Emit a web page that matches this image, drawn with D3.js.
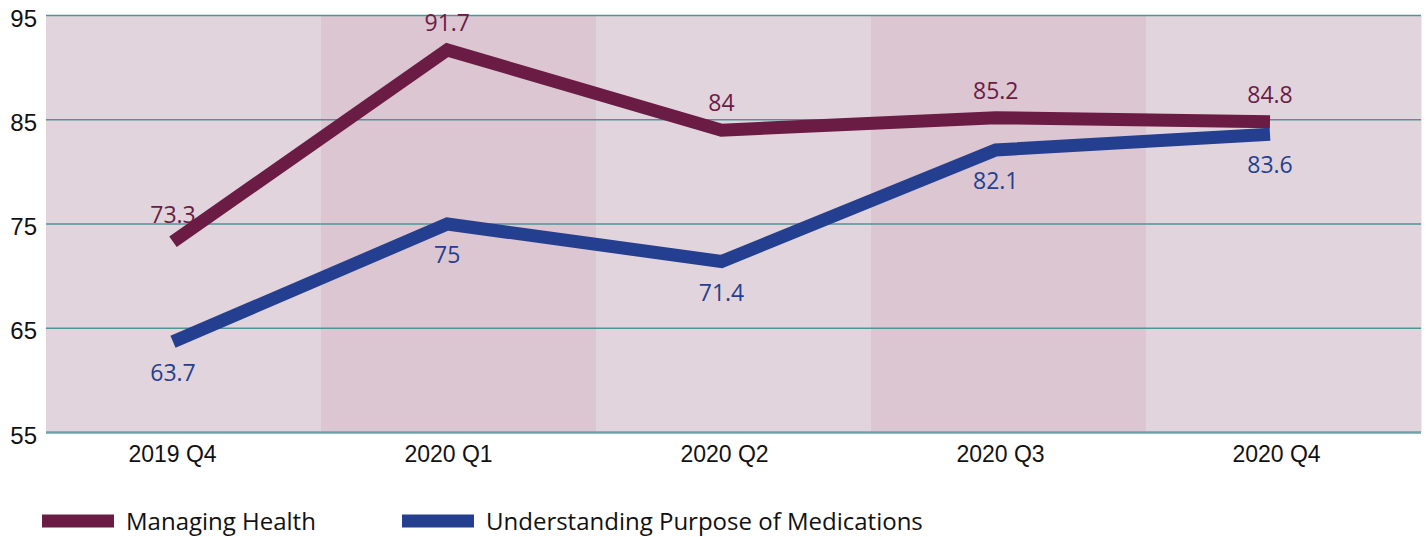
<!DOCTYPE html>
<html>
<head>
<meta charset="utf-8">
<script src="https://cdn.jsdelivr.net/npm/d3@7"></script>
<style>
    body { margin: 0; background: #fff; }
    svg { display: block; font-family: "Myriad Pro", "Open Sans", sans-serif; }
</style>
</head>
<body>
<div id="chart"></div>
<script>
// chart data
const categories = ["2019 Q4", "2020 Q1", "2020 Q2", "2020 Q3", "2020 Q4"];
const managingHealth = [73.3, 91.7, 84, 85.2, 84.8];
const understandingMeds = [63.7, 75, 71.4, 82.1, 83.6];
const yTicks = [55, 65, 75, 85, 95];
const seriesNames = ["Managing Health", "Understanding Purpose of Medications"];

const width = 1426, height = 537;
const plot = { left: 46, right: 1421, top: 15.5, bottom: 432.5 };

const colors = { managing: "#6b1c45", meds: "#243f8f" };

let svg = d3.select("#chart").append("svg")
    .attr("width", width)
    .attr("height", height);

// scales
let xBand = d3.scaleBand().domain(categories).range([plot.left, plot.right]);
let x = d3.scalePoint().domain(categories).range([173, 1270]);
// tick labels sit a little to the right of the points in the original
let xLabel = d3.scalePoint().domain(categories).range([172, 1276]);
let y = d3.scaleLinear().domain([55, 95]).range([plot.bottom, plot.top]);

// alternating background bands
svg.append("g").attr("class", "bands")
    .selectAll("rect")
    .data(categories)
    .enter().append("rect")
    .attr("x", d => xBand(d))
    .attr("y", plot.top)
    .attr("width", xBand.bandwidth() + 0.5)
    .attr("height", plot.bottom - plot.top)
    .attr("fill", (d, i) => i % 2 ? "#dbc6d1" : "#e2d4dc");

// gridlines
svg.append("g").attr("class", "grid")
    .selectAll("line")
    .data(yTicks)
    .enter().append("line")
    .attr("x1", plot.left)
    .attr("x2", plot.right)
    .attr("y1", d => y(d))
    .attr("y2", d => y(d))
    .attr("stroke", d => d === 55 ? "#6fa3a9" : "#4f9598")
    .attr("stroke-width", d => d === 55 ? 2.5 : 1.5);

// y axis labels
let yAxis = svg.append("g")
    .attr("transform", `translate(${plot.left - 9},3)`)
    .call(d3.axisLeft(y).tickValues(yTicks).tickSize(0).tickPadding(0));
yAxis.select(".domain").remove();
yAxis.selectAll("text")
    .attr("fill", "#111")
    .style("font-size", "24px");

// x axis labels
let xAxis = svg.append("g")
    .attr("transform", `translate(0,${plot.bottom})`)
    .call(d3.axisBottom(xLabel).tickSize(0).tickPadding(13));
xAxis.select(".domain").remove();
xAxis.selectAll("text")
    .attr("fill", "#111")
    .style("font-size", "23px");

// lines
let line = d3.line()
    .x((d, i) => x(categories[i]))
    .y(d => y(d));

let series = [
    { name: seriesNames[0], values: managingHealth, color: colors.managing, labelDy: -19 },
    { name: seriesNames[1], values: understandingMeds, color: colors.meds, labelDy: 39 }
];

svg.append("g").attr("class", "lines")
    .selectAll("path")
    .data(series)
    .enter().append("path")
    .attr("d", d => line(d.values))
    .attr("fill", "none")
    .attr("stroke", d => d.color)
    .attr("stroke-width", 13)
    .attr("stroke-linejoin", "miter")
    .attr("stroke-linecap", "butt");

// value labels
series.forEach(s => {
    svg.append("g").attr("class", "value-labels")
        .selectAll("text")
        .data(s.values)
        .enter().append("text")
        .attr("x", (d, i) => x(categories[i]))
        .attr("y", d => y(d) + s.labelDy)
        .attr("text-anchor", "middle")
        .attr("fill", s.color)
        .style("font-size", "23px")
        .text(d => d);
});

// legend
let legend = svg.append("g").attr("class", "legend")
    .selectAll("g")
    .data(series)
    .enter().append("g")
    .attr("transform", (d, i) => `translate(${i === 0 ? 42 : 402},521)`);

legend.append("line")
    .attr("x1", 0).attr("x2", 72)
    .attr("y1", 0).attr("y2", 0)
    .attr("stroke", d => d.color)
    .attr("stroke-width", 13);

legend.append("text")
    .attr("x", 84)
    .attr("y", 9)
    .attr("fill", "#111")
    .style("font-size", "24px")
    .text(d => d.name);
</script>
</body>
</html>
